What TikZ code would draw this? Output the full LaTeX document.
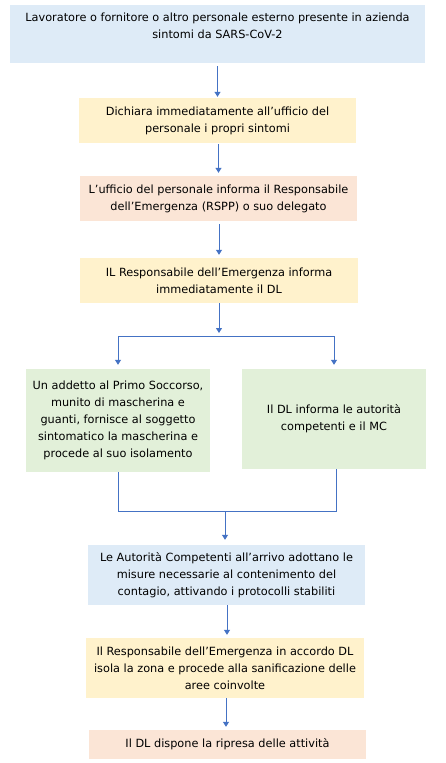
\documentclass[tikz,border=0pt]{standalone}
\usepackage{fontspec}
\setmainfont{DejaVu Sans}
\usetikzlibrary{arrows.meta}
\definecolor{cblue}{HTML}{DEEBF7}
\definecolor{cyellow}{HTML}{FFF2CC}
\definecolor{cpeach}{HTML}{FBE5D6}
\definecolor{cgreen}{HTML}{E2F0D9}
\definecolor{carrow}{HTML}{4472C4}
\tikzset{
  box/.style={rectangle, draw=none, inner sep=0pt, align=center,
    font=\fontsize{11.3}{17}\selectfont, text=black},
  conn/.style={draw=carrow, line width=1pt},
  arr/.style={conn, -{Triangle[width=6pt,length=5pt]}},
}
\begin{document}
\begin{tikzpicture}[x=1pt,y=-1pt]
\useasboundingbox[fill=white] (0,0) rectangle (446,763);
\node[box, fill=cblue, minimum width=415, minimum height=58] (b1) at (217.5,34)
  {Lavoratore o fornitore o altro personale esterno presente in azienda\\ sintomi da SARS-CoV-2\\ \mbox{}};
\node[box, fill=cyellow, minimum width=277, minimum height=45] (b2) at (217.5,120.5)
  {Dichiara immediatamente all’ufficio del\\ personale i propri sintomi};
\node[box, fill=cpeach, minimum width=277, minimum height=45] (b3) at (218.5,198.5)
  {L’ufficio del personale informa il Responsabile\\ dell’Emergenza (RSPP) o suo delegato};
\node[box, fill=cyellow, minimum width=278, minimum height=45] (b4) at (219,280.5)
  {IL Responsabile dell’Emergenza informa\\ immediatamente il DL};
\node[box, fill=cgreen, minimum width=184, minimum height=103] (b5) at (118,420.5)
  {Un addetto al Primo Soccorso,\\ munito di mascherina e\\ guanti, fornisce al soggetto\\ sintomatico la mascherina e\\ procede al suo isolamento};
\node[box, fill=cgreen, minimum width=184, minimum height=100] (b6) at (334,419)
  {Il DL informa le autorità\\ competenti e il MC};
\node[box, fill=cblue, minimum width=277, minimum height=60] (b7) at (226.5,575)
  {Le Autorità Competenti all’arrivo adottano le\\ misure necessarie al contenimento del\\ contagio, attivando i protocolli stabiliti};
\node[box, fill=cyellow, minimum width=278, minimum height=60] (b8) at (225,668)
  {Il Responsabile dell’Emergenza in accordo DL\\ isola la zona e procede alla sanificazione delle\\ aree coinvolte};
\node[box, fill=cpeach, minimum width=277, minimum height=29] (b9) at (227.5,744.5)
  {Il DL dispone la ripresa delle attività};
% straight arrows
\draw[arr, shorten <=3pt, shorten >=1pt] (b1.south -| b2.north) -- (b2.north);
\draw[arr, shorten <=1pt, shorten >=3pt] (b2.south -| b3.north) -- (b3.north);
\draw[arr, shorten <=3pt, shorten >=3pt] (b3.south -| b4.north) -- (b4.north);
% split
\coordinate (sM) at (219,336);
\coordinate (sL) at (118,336);
\coordinate (sR) at (334,336);
\draw[arr, shorten >=3pt] (b4.south) -- (sM);
\draw[conn] (sL) -- (sR);
\draw[arr, shorten >=4pt] (sL) -- (b5.north);
\draw[arr, shorten >=4pt] (sR) -- (b6.north);
% join
\coordinate (jL) at (118,511);
\coordinate (jR) at (336,511);
\coordinate (jM) at (225,511);
\draw[conn] (b5.south) -- (jL) -- (jR) -- (b6.south -| jR);
\draw[arr, shorten >=5pt] (jM) -- (jM |- b7.north);
\draw[arr, shorten >=3pt] (b7.south -| 227,0) -- (b8.north -| 227,0);
\draw[arr, shorten >=3pt] (b8.south -| 226,0) -- (b9.north -| 226,0);
\end{tikzpicture}
\end{document}
